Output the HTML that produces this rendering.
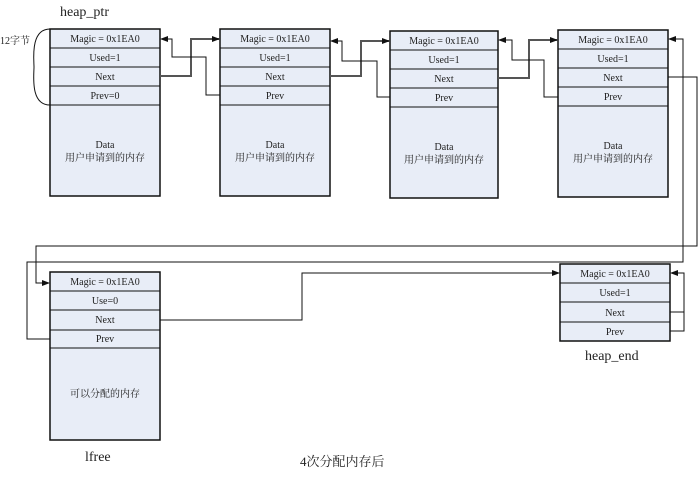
<!DOCTYPE html>
<html><head><meta charset="utf-8"><style>
body{margin:0;background:#fff}
text{font-family:"Liberation Serif","Noto Serif CJK SC",serif;font-size:10px;fill:#222}
.b{fill:#e8edf7;stroke:#111;stroke-width:1.5}
.l{fill:none;stroke:#111;stroke-width:1}
.g{fill:none;stroke:#555;stroke-width:2}
</style></head><body>
<svg width="699" height="472" xmlns="http://www.w3.org/2000/svg">
<defs><marker id="a" markerWidth="8" markerHeight="8" refX="7" refY="4" orient="auto" markerUnits="userSpaceOnUse"><path d="M0,1 L8,4 L0,7z" fill="#111"/></marker></defs>
<g id="blk">
</g>
<!-- box1 -->
<rect class="b" x="50" y="29" width="110" height="167"/>
<path class="l" d="M50 48H160M50 67H160M50 86H160M50 105H160"/>
<text x="105" y="42" text-anchor="middle">Magic = 0x1EA0</text>
<text x="105" y="61" text-anchor="middle">Used=1</text>
<text x="105" y="80" text-anchor="middle">Next</text>
<text x="105" y="99" text-anchor="middle">Prev=0</text>
<text x="105" y="148" text-anchor="middle">Data</text>
<text x="105" y="161" text-anchor="middle">用户申请到的内存</text>
<!-- box2 -->
<rect class="b" x="220" y="29" width="110" height="167"/>
<path class="l" d="M220 48H330M220 67H330M220 86H330M220 105H330"/>
<text x="275" y="42" text-anchor="middle">Magic = 0x1EA0</text>
<text x="275" y="61" text-anchor="middle">Used=1</text>
<text x="275" y="80" text-anchor="middle">Next</text>
<text x="275" y="99" text-anchor="middle">Prev</text>
<text x="275" y="148" text-anchor="middle">Data</text>
<text x="275" y="161" text-anchor="middle">用户申请到的内存</text>
<!-- box3 -->
<rect class="b" x="390" y="31" width="108" height="167"/>
<path class="l" d="M390 50H498M390 69H498M390 88H498M390 107H498"/>
<text x="444" y="44" text-anchor="middle">Magic = 0x1EA0</text>
<text x="444" y="63" text-anchor="middle">Used=1</text>
<text x="444" y="82" text-anchor="middle">Next</text>
<text x="444" y="101" text-anchor="middle">Prev</text>
<text x="444" y="150" text-anchor="middle">Data</text>
<text x="444" y="163" text-anchor="middle">用户申请到的内存</text>
<!-- box4 -->
<rect class="b" x="558" y="30" width="110" height="167"/>
<path class="l" d="M558 49H668M558 68H668M558 87H668M558 106H668"/>
<text x="613" y="43" text-anchor="middle">Magic = 0x1EA0</text>
<text x="613" y="62" text-anchor="middle">Used=1</text>
<text x="613" y="81" text-anchor="middle">Next</text>
<text x="613" y="100" text-anchor="middle">Prev</text>
<text x="613" y="149" text-anchor="middle">Data</text>
<text x="613" y="162" text-anchor="middle">用户申请到的内存</text>
<!-- lfree -->
<rect class="b" x="50" y="272" width="110" height="168"/>
<path class="l" d="M50 291H160M50 310H160M50 330H160M50 348H160"/>
<text x="105" y="285" text-anchor="middle">Magic = 0x1EA0</text>
<text x="105" y="304" text-anchor="middle">Use=0</text>
<text x="105" y="323" text-anchor="middle">Next</text>
<text x="105" y="342" text-anchor="middle">Prev</text>
<text x="105" y="397" text-anchor="middle">可以分配的内存</text>
<!-- heap_end -->
<rect class="b" x="560" y="264" width="110" height="77"/>
<path class="l" d="M560 283H670M560 302H670M560 322H670"/>
<text x="615" y="277" text-anchor="middle">Magic = 0x1EA0</text>
<text x="615" y="296" text-anchor="middle">Used=1</text>
<text x="615" y="316" text-anchor="middle">Next</text>
<text x="615" y="335" text-anchor="middle">Prev</text>
<!-- connectors -->
<path class="g" d="M160 76H191V39H219" marker-end="url(#a)"/>
<path class="l" d="M220 95H206V57H172V39H161" marker-end="url(#a)"/>
<path class="g" d="M330 76H361V41H389" marker-end="url(#a)"/>
<path class="l" d="M390 97H377V61H342V41H331" marker-end="url(#a)"/>
<path class="g" d="M498 78H529V40H557" marker-end="url(#a)"/>
<path class="l" d="M558 97H544V60H512V40H499" marker-end="url(#a)"/>
<path class="l" d="M668 77H697V246H36V283H49" marker-end="url(#a)"/>
<path class="l" d="M50 339H27V262H683V39H669" marker-end="url(#a)"/>
<path class="l" d="M160 320H302V273H559" marker-end="url(#a)"/>
<path class="l" d="M670 312H684V273H671" marker-end="url(#a)"/>
<path class="l" d="M670 331H684V312"/>
<!-- brace -->
<path class="l" d="M50 29C30 29 34 60 34 67C34 75 30 105 50 105"/>
<text x="0" y="44" style="font-size:10px">12字节</text>
<text x="60" y="16" style="font-size:14px">heap_ptr</text>
<text x="85" y="461" style="font-size:14px">lfree</text>
<text x="585" y="360" style="font-size:14px">heap_end</text>
<text x="300" y="466" style="font-size:13px">4次分配内存后</text>
</svg>
</body></html>
